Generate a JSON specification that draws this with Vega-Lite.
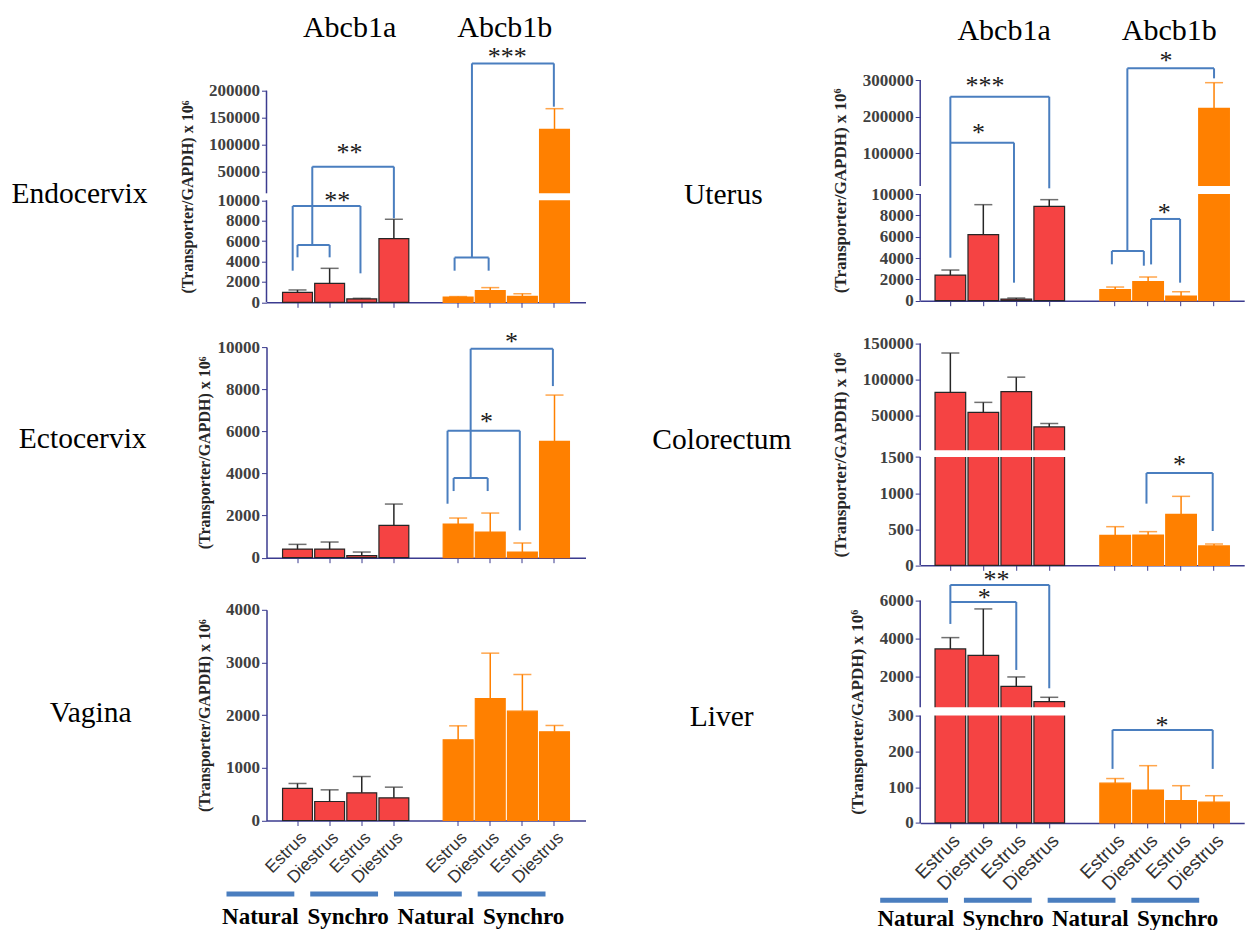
{
"$schema": "https://vega.github.io/schema/vega-lite/v6.json",
"background": "white",
"autosize": {"type": "pad"},
"padding": {"left": 11.5, "top": 8, "right": 0, "bottom": 0},
"config": {
  "view": {"stroke": null},
  "axis": {"domainColor": "#3b3b8f", "domainWidth": 1.5, "tickColor": "#3b3b8f", "tickSize": 5, "grid": false, "labelOverlap": false},
  "axisY": {"labelFont": "Liberation Serif", "labelFontSize": 17, "labelFontWeight": "bold", "labelColor": "#404040", "labelPadding": 2, "titleFont": "Liberation Serif", "titleFontSize": 16, "titleFontWeight": "bold", "titleColor": "#262626", "titlePadding": 13},
  "axisX": {"labelFont": "Liberation Sans", "labelFontSize": 17.5, "labelColor": "#333333", "labelAngle": -45, "labelPadding": 3}
},
"datasets": {
  "bars": [
    {"t":"Endocervix","s":"a|N|Estrus","g":"Abcb1a","v":980,"e":1210},
    {"t":"Endocervix","s":"a|N|Diestrus","g":"Abcb1a","v":1860,"e":3330},
    {"t":"Endocervix","s":"a|S|Estrus","g":"Abcb1a","v":330,"e":390},
    {"t":"Endocervix","s":"a|S|Diestrus","g":"Abcb1a","v":6240,"e":8140},
    {"t":"Endocervix","s":"b|N|Estrus","g":"Abcb1b","v":520,"e":560},
    {"t":"Endocervix","s":"b|N|Diestrus","g":"Abcb1b","v":1140,"e":1440},
    {"t":"Endocervix","s":"b|S|Estrus","g":"Abcb1b","v":590,"e":850},
    {"t":"Endocervix","s":"b|S|Diestrus","g":"Abcb1b","v":128700,"e":166800},
    {"t":"Ectocervix","s":"a|N|Estrus","g":"Abcb1a","v":411,"e":633},
    {"t":"Ectocervix","s":"a|N|Diestrus","g":"Abcb1a","v":411,"e":744},
    {"t":"Ectocervix","s":"a|S|Estrus","g":"Abcb1a","v":95,"e":269},
    {"t":"Ectocervix","s":"a|S|Diestrus","g":"Abcb1a","v":1535,"e":2547},
    {"t":"Ectocervix","s":"b|N|Estrus","g":"Abcb1b","v":1598,"e":1883},
    {"t":"Ectocervix","s":"b|N|Diestrus","g":"Abcb1b","v":1218,"e":2120},
    {"t":"Ectocervix","s":"b|S|Estrus","g":"Abcb1b","v":269,"e":696},
    {"t":"Ectocervix","s":"b|S|Diestrus","g":"Abcb1b","v":5522,"e":7722},
    {"t":"Vagina","s":"a|N|Estrus","g":"Abcb1a","v":608,"e":703},
    {"t":"Vagina","s":"a|N|Diestrus","g":"Abcb1a","v":361,"e":582},
    {"t":"Vagina","s":"a|S|Estrus","g":"Abcb1a","v":525,"e":835},
    {"t":"Vagina","s":"a|S|Diestrus","g":"Abcb1a","v":430,"e":633},
    {"t":"Vagina","s":"b|N|Estrus","g":"Abcb1b","v":1532,"e":1797},
    {"t":"Vagina","s":"b|N|Diestrus","g":"Abcb1b","v":2316,"e":3177},
    {"t":"Vagina","s":"b|S|Estrus","g":"Abcb1b","v":2076,"e":2772},
    {"t":"Vagina","s":"b|S|Diestrus","g":"Abcb1b","v":1684,"e":1804},
    {"t":"Uterus","s":"a|N|Estrus","g":"Abcb1a","v":2406,"e":2875},
    {"t":"Uterus","s":"a|N|Diestrus","g":"Abcb1a","v":6190,"e":9000},
    {"t":"Uterus","s":"a|S|Estrus","g":"Abcb1a","v":156,"e":250},
    {"t":"Uterus","s":"a|S|Diestrus","g":"Abcb1a","v":8840,"e":9470},
    {"t":"Uterus","s":"b|N|Estrus","g":"Abcb1b","v":1030,"e":1280},
    {"t":"Uterus","s":"b|N|Diestrus","g":"Abcb1b","v":1780,"e":2220},
    {"t":"Uterus","s":"b|S|Estrus","g":"Abcb1b","v":440,"e":840},
    {"t":"Uterus","s":"b|S|Diestrus","g":"Abcb1b","v":222700,"e":292700},
    {"t":"Colorectum","s":"a|N|Estrus","g":"Abcb1a","v":82240,"e":136900},
    {"t":"Colorectum","s":"a|N|Diestrus","g":"Abcb1a","v":54200,"e":68200},
    {"t":"Colorectum","s":"a|S|Estrus","g":"Abcb1a","v":83200,"e":103300},
    {"t":"Colorectum","s":"a|S|Diestrus","g":"Abcb1a","v":34100,"e":38800},
    {"t":"Colorectum","s":"b|N|Estrus","g":"Abcb1b","v":415,"e":535},
    {"t":"Colorectum","s":"b|N|Diestrus","g":"Abcb1b","v":420,"e":466},
    {"t":"Colorectum","s":"b|S|Estrus","g":"Abcb1b","v":706,"e":955},
    {"t":"Colorectum","s":"b|S|Diestrus","g":"Abcb1b","v":268,"e":295},
    {"t":"Liver","s":"a|N|Estrus","g":"Abcb1a","v":3445,"e":4044},
    {"t":"Liver","s":"a|N|Diestrus","g":"Abcb1a","v":3110,"e":5560},
    {"t":"Liver","s":"a|S|Estrus","g":"Abcb1a","v":1471,"e":1965},
    {"t":"Liver","s":"a|S|Diestrus","g":"Abcb1a","v":661,"e":890},
    {"t":"Liver","s":"b|N|Estrus","g":"Abcb1b","v":111,"e":124},
    {"t":"Liver","s":"b|N|Diestrus","g":"Abcb1b","v":92,"e":160},
    {"t":"Liver","s":"b|S|Estrus","g":"Abcb1b","v":62,"e":104},
    {"t":"Liver","s":"b|S|Diestrus","g":"Abcb1b","v":58,"e":76}
  ],
  "breaks": [
    {"t":"Endocervix","lo":10000,"hi":10660},
    {"t":"Uterus","lo":10000,"hi":10900},
    {"t":"Colorectum","lo":1500,"hi":1501},
    {"t":"Liver","lo":300,"hi":361}
  ],
  "axisSegs": [
    {"t":"Endocervix","lo":0,"hi":10000},{"t":"Endocervix","lo":10660,"hi":200000},
    {"t":"Uterus","lo":0,"hi":10000},{"t":"Uterus","lo":10900,"hi":300000},
    {"t":"Colorectum","lo":0,"hi":1500},{"t":"Colorectum","lo":1501,"hi":150000},
    {"t":"Liver","lo":0,"hi":300},{"t":"Liver","lo":361,"hi":6000}
  ],
  "brackets": [
    {"t":"Endocervix","x":0,"x2":0,"y":4410,"y2":5620},
    {"t":"Endocervix","x":1,"x2":1,"y":4410,"y2":5620},
    {"t":"Endocervix","x":0,"x2":1,"y":5620,"y2":5620},
    {"t":"Endocervix","x":0.46,"x2":0.46,"y":5620,"y2":59840},
    {"t":"Endocervix","x":0.46,"x2":3,"y":59840,"y2":59840},
    {"t":"Endocervix","x":3,"x2":3,"y":8240,"y2":59840},
    {"t":"Endocervix","x":-0.15,"x2":1.96,"y":9440,"y2":9440},
    {"t":"Endocervix","x":-0.15,"x2":-0.15,"y":3100,"y2":9440},
    {"t":"Endocervix","x":1.96,"x2":1.96,"y":2840,"y2":9440},
    {"t":"Endocervix","x":4.89,"x2":4.89,"y":3100,"y2":4380},
    {"t":"Endocervix","x":5.95,"x2":5.95,"y":3100,"y2":4380},
    {"t":"Endocervix","x":4.89,"x2":5.95,"y":4380,"y2":4380},
    {"t":"Endocervix","x":5.43,"x2":5.43,"y":4380,"y2":250400},
    {"t":"Endocervix","x":5.43,"x2":7.98,"y":250400,"y2":250400},
    {"t":"Endocervix","x":7.98,"x2":7.98,"y":170500,"y2":250400},
    {"t":"Ectocervix","x":4.86,"x2":4.86,"y":3165,"y2":3782},
    {"t":"Ectocervix","x":5.92,"x2":5.92,"y":3165,"y2":3782},
    {"t":"Ectocervix","x":4.86,"x2":5.92,"y":3782,"y2":3782},
    {"t":"Ectocervix","x":5.39,"x2":5.39,"y":3782,"y2":9921},
    {"t":"Ectocervix","x":5.39,"x2":7.95,"y":9921,"y2":9921},
    {"t":"Ectocervix","x":7.95,"x2":7.95,"y":8149,"y2":9921},
    {"t":"Ectocervix","x":4.67,"x2":6.92,"y":6028,"y2":6028},
    {"t":"Ectocervix","x":4.67,"x2":4.67,"y":2563,"y2":6028},
    {"t":"Ectocervix","x":6.92,"x2":6.92,"y":1297,"y2":6028},
    {"t":"Uterus","x":0,"x2":0,"y":4030,"y2":254500},
    {"t":"Uterus","x":0,"x2":3,"y":254500,"y2":254500},
    {"t":"Uterus","x":3,"x2":3,"y":10640,"y2":254500},
    {"t":"Uterus","x":0,"x2":1.93,"y":129100,"y2":129100},
    {"t":"Uterus","x":1.93,"x2":1.93,"y":1690,"y2":129100},
    {"t":"Uterus","x":4.9,"x2":4.9,"y":3410,"y2":4660},
    {"t":"Uterus","x":5.87,"x2":5.87,"y":3280,"y2":4660},
    {"t":"Uterus","x":4.9,"x2":5.87,"y":4660,"y2":4660},
    {"t":"Uterus","x":5.37,"x2":5.37,"y":4660,"y2":331800},
    {"t":"Uterus","x":5.37,"x2":8,"y":331800,"y2":331800},
    {"t":"Uterus","x":8,"x2":8,"y":304500,"y2":331800},
    {"t":"Uterus","x":6.09,"x2":6.97,"y":7660,"y2":7660},
    {"t":"Uterus","x":6.09,"x2":6.09,"y":3400,"y2":7660},
    {"t":"Uterus","x":6.97,"x2":6.97,"y":1690,"y2":7660},
    {"t":"Colorectum","x":5.95,"x2":7.96,"y":1278,"y2":1278},
    {"t":"Colorectum","x":5.95,"x2":5.95,"y":854,"y2":1278},
    {"t":"Colorectum","x":7.96,"x2":7.96,"y":475,"y2":1278},
    {"t":"Liver","x":0,"x2":3,"y":6828,"y2":6828},
    {"t":"Liver","x":0,"x2":0,"y":4767,"y2":6828},
    {"t":"Liver","x":3,"x2":3,"y":1366,"y2":6828},
    {"t":"Liver","x":0,"x2":2,"y":5930,"y2":5930},
    {"t":"Liver","x":2,"x2":2,"y":2335,"y2":5930},
    {"t":"Liver","x":4.92,"x2":7.96,"y":260,"y2":260},
    {"t":"Liver","x":4.92,"x2":4.92,"y":151,"y2":260},
    {"t":"Liver","x":7.96,"x2":7.96,"y":151,"y2":260}
  ],
  "stars": [
    {"t":"Endocervix","x":1.62,"y":93600,"s":"**"},
    {"t":"Endocervix","x":1.24,"y":10360,"s":"**"},
    {"t":"Endocervix","x":6.53,"y":270100,"s":"***"},
    {"t":"Ectocervix","x":6.66,"y":10443,"s":"*"},
    {"t":"Ectocervix","x":5.88,"y":6677,"s":"*"},
    {"t":"Uterus","x":1.05,"y":295500,"s":"***"},
    {"t":"Uterus","x":0.85,"y":168200,"s":"*"},
    {"t":"Uterus","x":6.54,"y":363600,"s":"*"},
    {"t":"Uterus","x":6.49,"y":8660,"s":"*"},
    {"t":"Colorectum","x":6.95,"y":1454,"s":"*"},
    {"t":"Liver","x":1.4,"y":7322,"s":"**"},
    {"t":"Liver","x":1.03,"y":6352,"s":"*"},
    {"t":"Liver","x":6.42,"y":283,"s":"*"}
  ],
  "headers": [
    {"c":"L","x":1.62,"g":"Abcb1a"},{"c":"L","x":6.45,"g":"Abcb1b"},
    {"c":"R","x":1.63,"g":"Abcb1a"},{"c":"R","x":6.64,"g":"Abcb1b"}
  ],
  "groups": [
    {"k":"N1","lab":"Natural"},{"k":"S1","lab":"Synchro"},{"k":"N2","lab":"Natural"},{"k":"S2","lab":"Synchro"}
  ]
},
"hconcat": [
 {"vconcat": [
   {"width":319,"height":40,"data":{"name":"headers"},"transform":[{"filter":"datum.c==='L'"}],
    "mark":{"type":"text","font":"Liberation Serif","fontSize":30,"baseline":"middle","color":"#000000"},
    "encoding":{"x":{"field":"x","type":"quantitative","scale":{"domain":[-0.965,8.965],"nice":false,"zero":false},"axis":null},"text":{"field":"g"}}},
   {"vconcat": [
     {"width":319,"height":211.6,
      "title":{"text":"Endocervix","orient":"left","angle":0,"align":"center","baseline":"middle","anchor":"middle","offset":-36,"dy":-2.5,"font":"Liberation Serif","fontSize":29.5,"fontWeight":"normal","color":"#000000"},
      "resolve":{"scale":{"x":"independent"}},
      "layer":[
       {"data":{"name":"bars"},"transform":[{"filter":"datum.t==='Endocervix'"}],
        "resolve":{"scale":{"fill":"independent"}},
        "layer":[
         {"mark":{"type":"bar","strokeWidth":1.2},
          "encoding":{
           "x":{"field":"s","type":"nominal","scale":{"domain":["a|N|Estrus","a|N|Diestrus","a|S|Estrus","a|S|Diestrus","gap","b|N|Estrus","b|N|Diestrus","b|S|Estrus","b|S|Diestrus"],"paddingInner":0.07,"paddingOuter":0.5},"axis":{"values":["a|N|Estrus","a|N|Diestrus","a|S|Estrus","a|S|Diestrus","b|N|Estrus","b|N|Diestrus","b|S|Estrus","b|S|Diestrus"],"labels":false,"title":null}},
           "y":{"field":"v","type":"quantitative","scale":{"domain":[0,10000,10660,200000],"range":[211.6,109.6,102.6,0],"nice":false,"zero":false},"axis":{"values":[0,2000,4000,6000,8000,10000,50000,100000,150000,200000],"domain":false,"format":"d","labelOverlap":false,"titleFontSize":16,"title":"(Transporter/GAPDH) x 10⁶"}},
           "fill":{"field":"g","type":"nominal","scale":{"domain":["Abcb1a","Abcb1b"],"range":["#F54343","#FF8000"]},"legend":null},
           "stroke":{"field":"g","type":"nominal","scale":{"domain":["Abcb1a","Abcb1b"],"range":["#262626","#FF8000"]},"legend":null}}},
         {"mark":{"type":"rule","strokeWidth":1.5},
          "encoding":{
           "x":{"field":"s","type":"nominal"},
           "y":{"field":"v","type":"quantitative","axis":{"values":[0,2000,4000,6000,8000,10000,50000,100000,150000,200000],"domain":false,"format":"d","labelOverlap":false,"titleFontSize":16,"title":"(Transporter/GAPDH) x 10⁶"}},
           "y2":{"field":"e"},
           "stroke":{"field":"g","type":"nominal","legend":null}}},
         {"mark":{"type":"tick","orient":"horizontal","size":18,"thickness":1.5},
          "encoding":{
           "x":{"field":"s","type":"nominal"},
           "y":{"field":"e","type":"quantitative","axis":{"values":[0,2000,4000,6000,8000,10000,50000,100000,150000,200000],"domain":false,"format":"d","labelOverlap":false,"titleFontSize":16,"title":"(Transporter/GAPDH) x 10⁶"}},
           "fill":{"field":"g","type":"nominal","scale":{"domain":["Abcb1a","Abcb1b"],"range":["#333333","#FF8000"]},"legend":null}}}
        ]},
       {"layer":[
         {"data":{"name":"breaks"},"transform":[{"filter":"datum.t==='Endocervix'"}],"mark":{"type":"rect","fill":"white"},
          "encoding":{"y":{"field":"lo","type":"quantitative","axis":{"values":[0,2000,4000,6000,8000,10000,50000,100000,150000,200000],"domain":false,"format":"d","labelOverlap":false,"titleFontSize":16,"title":"(Transporter/GAPDH) x 10⁶"}},"y2":{"field":"hi"}}},
         {"data":{"name":"axisSegs"},"transform":[{"filter":"datum.t==='Endocervix'"}],"mark":{"type":"rule","color":"#3b3b8f","strokeWidth":1.5},
          "encoding":{"x":{"datum":-0.965,"type":"quantitative","scale":{"domain":[-0.965,8.965],"nice":false,"zero":false},"axis":null},
           "y":{"field":"lo","type":"quantitative","axis":{"values":[0,2000,4000,6000,8000,10000,50000,100000,150000,200000],"domain":false,"format":"d","labelOverlap":false,"titleFontSize":16,"title":"(Transporter/GAPDH) x 10⁶"}},"y2":{"field":"hi"}}},
         {"data":{"name":"brackets"},"transform":[{"filter":"datum.t==='Endocervix'"}],"mark":{"type":"rule","color":"#4A7EBF","strokeWidth":2},
          "encoding":{"x":{"field":"x","type":"quantitative","scale":{"domain":[-0.965,8.965],"nice":false,"zero":false},"axis":null},"x2":{"field":"x2"},
           "y":{"field":"y","type":"quantitative","axis":{"values":[0,2000,4000,6000,8000,10000,50000,100000,150000,200000],"domain":false,"format":"d","labelOverlap":false,"titleFontSize":16,"title":"(Transporter/GAPDH) x 10⁶"}},"y2":{"field":"y2"}}},
         {"data":{"name":"stars"},"transform":[{"filter":"datum.t==='Endocervix'"}],"mark":{"type":"text","font":"Liberation Serif","fontSize":26,"baseline":"middle","dy":4.5,"color":"#1a1a1a"},
          "encoding":{"x":{"field":"x","type":"quantitative","scale":{"domain":[-0.965,8.965],"nice":false,"zero":false},"axis":null},
           "y":{"field":"y","type":"quantitative","axis":{"values":[0,2000,4000,6000,8000,10000,50000,100000,150000,200000],"domain":false,"format":"d","labelOverlap":false,"titleFontSize":16,"title":"(Transporter/GAPDH) x 10⁶"}},"text":{"field":"s"}}}
       ]}
      ]},
     {"vconcat": [
       {"width":319,"height":210.6,
        "title":{"text":"Ectocervix","orient":"left","angle":0,"align":"center","baseline":"middle","anchor":"middle","offset":-14.5,"dy":-13,"font":"Liberation Serif","fontSize":29.5,"fontWeight":"normal","color":"#000000"},
        "resolve":{"scale":{"x":"independent"}},
        "layer":[
         {"data":{"name":"bars"},"transform":[{"filter":"datum.t==='Ectocervix'"}],
          "resolve":{"scale":{"fill":"independent"}},
          "layer":[
           {"mark":{"type":"bar","strokeWidth":1.2},
            "encoding":{
             "x":{"field":"s","type":"nominal","scale":{"domain":["a|N|Estrus","a|N|Diestrus","a|S|Estrus","a|S|Diestrus","gap","b|N|Estrus","b|N|Diestrus","b|S|Estrus","b|S|Diestrus"],"paddingInner":0.07,"paddingOuter":0.5},"axis":{"values":["a|N|Estrus","a|N|Diestrus","a|S|Estrus","a|S|Diestrus","b|N|Estrus","b|N|Diestrus","b|S|Estrus","b|S|Diestrus"],"labels":false,"title":null}},
             "y":{"field":"v","type":"quantitative","scale":{"domain":[0,10000],"nice":false},"axis":{"values":[0,2000,4000,6000,8000,10000],"format":"d","labelOverlap":false,"titleFontSize":16,"titlePadding":5,"title":"(Transporter/GAPDH) x 10⁶"}},
             "fill":{"field":"g","type":"nominal","scale":{"domain":["Abcb1a","Abcb1b"],"range":["#F54343","#FF8000"]},"legend":null},
             "stroke":{"field":"g","type":"nominal","scale":{"domain":["Abcb1a","Abcb1b"],"range":["#262626","#FF8000"]},"legend":null}}},
           {"mark":{"type":"rule","strokeWidth":1.5},
            "encoding":{
             "x":{"field":"s","type":"nominal"},
             "y":{"field":"v","type":"quantitative","axis":{"values":[0,2000,4000,6000,8000,10000],"format":"d","labelOverlap":false,"titleFontSize":16,"titlePadding":5,"title":"(Transporter/GAPDH) x 10⁶"}},
             "y2":{"field":"e"},
             "stroke":{"field":"g","type":"nominal","legend":null}}},
           {"mark":{"type":"tick","orient":"horizontal","size":18,"thickness":1.5},
            "encoding":{
             "x":{"field":"s","type":"nominal"},
             "y":{"field":"e","type":"quantitative","axis":{"values":[0,2000,4000,6000,8000,10000],"format":"d","labelOverlap":false,"titleFontSize":16,"titlePadding":5,"title":"(Transporter/GAPDH) x 10⁶"}},
             "fill":{"field":"g","type":"nominal","scale":{"domain":["Abcb1a","Abcb1b"],"range":["#333333","#FF8000"]},"legend":null}}}
          ]},
         {"layer":[
           {"data":{"name":"brackets"},"transform":[{"filter":"datum.t==='Ectocervix'"}],"mark":{"type":"rule","color":"#4A7EBF","strokeWidth":2},
            "encoding":{"x":{"field":"x","type":"quantitative","scale":{"domain":[-0.965,8.965],"nice":false,"zero":false},"axis":null},"x2":{"field":"x2"},
             "y":{"field":"y","type":"quantitative","axis":{"values":[0,2000,4000,6000,8000,10000],"format":"d","labelOverlap":false,"titleFontSize":16,"titlePadding":5,"title":"(Transporter/GAPDH) x 10⁶"}},"y2":{"field":"y2"}}},
           {"data":{"name":"stars"},"transform":[{"filter":"datum.t==='Ectocervix'"}],"mark":{"type":"text","font":"Liberation Serif","fontSize":26,"baseline":"middle","dy":4.5,"color":"#1a1a1a"},
            "encoding":{"x":{"field":"x","type":"quantitative","scale":{"domain":[-0.965,8.965],"nice":false,"zero":false},"axis":null},
             "y":{"field":"y","type":"quantitative","axis":{"values":[0,2000,4000,6000,8000,10000],"format":"d","labelOverlap":false,"titleFontSize":16,"titlePadding":5,"title":"(Transporter/GAPDH) x 10⁶"}},"text":{"field":"s"}}}
         ]}
        ]},
       {"vconcat": [
         {"width":319,"height":210.7,
          "title":{"text":"Vagina","orient":"left","angle":0,"align":"center","baseline":"middle","anchor":"middle","offset":24,"dy":-2.5,"font":"Liberation Serif","fontSize":29.5,"fontWeight":"normal","color":"#000000"},
          "data":{"name":"bars"},"transform":[{"filter":"datum.t==='Vagina'"}],
          "resolve":{"scale":{"fill":"independent"}},
          "layer":[
           {"mark":{"type":"bar","strokeWidth":1.2},
            "encoding":{
             "x":{"field":"s","type":"nominal","scale":{"domain":["a|N|Estrus","a|N|Diestrus","a|S|Estrus","a|S|Diestrus","gap","b|N|Estrus","b|N|Diestrus","b|S|Estrus","b|S|Diestrus"],"paddingInner":0.07,"paddingOuter":0.5},"axis":{"values":["a|N|Estrus","a|N|Diestrus","a|S|Estrus","a|S|Diestrus","b|N|Estrus","b|N|Diestrus","b|S|Estrus","b|S|Diestrus"],"labelExpr":"split(datum.value, '|')[2]","labelFontSize":17.5,"title":null}},
             "y":{"field":"v","type":"quantitative","scale":{"domain":[0,4000],"nice":false},"axis":{"values":[0,1000,2000,3000,4000],"format":"d","labelOverlap":false,"titleFontSize":16,"title":"(Transporter/GAPDH) x 10⁶"}},
             "fill":{"field":"g","type":"nominal","scale":{"domain":["Abcb1a","Abcb1b"],"range":["#F54343","#FF8000"]},"legend":null},
             "stroke":{"field":"g","type":"nominal","scale":{"domain":["Abcb1a","Abcb1b"],"range":["#262626","#FF8000"]},"legend":null}}},
           {"mark":{"type":"rule","strokeWidth":1.5},
            "encoding":{
             "x":{"field":"s","type":"nominal"},
             "y":{"field":"v","type":"quantitative","axis":{"values":[0,1000,2000,3000,4000],"format":"d","labelOverlap":false,"titleFontSize":16,"title":"(Transporter/GAPDH) x 10⁶"}},
             "y2":{"field":"e"},
             "stroke":{"field":"g","type":"nominal","legend":null}}},
           {"mark":{"type":"tick","orient":"horizontal","size":18,"thickness":1.5},
            "encoding":{
             "x":{"field":"s","type":"nominal"},
             "y":{"field":"e","type":"quantitative","axis":{"values":[0,1000,2000,3000,4000],"format":"d","labelOverlap":false,"titleFontSize":16,"title":"(Transporter/GAPDH) x 10⁶"}},
             "fill":{"field":"g","type":"nominal","scale":{"domain":["Abcb1a","Abcb1b"],"range":["#333333","#FF8000"]},"legend":null}}}
          ]},
         {"vconcat": [
           {"width":319,"height":5,"data":{"name":"groups"},"mark":{"type":"rect","color":"#4A7EBF"},
            "encoding":{"x":{"field":"k","type":"nominal","scale":{"domain":["N1","S1","N2","S2"],"range":[-40,279],"paddingInner":0.19,"paddingOuter":0},"axis":null}}},
           {"width":319,"height":18.6,"data":{"name":"groups"},"mark":{"type":"text","font":"Liberation Serif","fontSize":23,"fontWeight":"bold","baseline":"top","color":"#000000"},
            "encoding":{"x":{"field":"k","type":"nominal","scale":{"domain":["N1","S1","N2","S2"],"range":[-50,301],"paddingInner":0.19,"paddingOuter":0},"axis":null},"text":{"field":"lab"}}}
         ],"spacing":0,"bounds":"flush"}
       ],"spacing":70.8,"bounds":"flush"}
     ],"spacing":51.7,"bounds":"flush"}
   ],"spacing":44.4,"bounds":"flush"}
 ],"spacing":42.7,"bounds":"flush"},
 {"vconcat": [
   {"width":324,"height":46,"data":{"name":"headers"},"transform":[{"filter":"datum.c==='R'"}],
    "mark":{"type":"text","font":"Liberation Serif","fontSize":30,"baseline":"middle","color":"#000000"},
    "encoding":{"x":{"field":"x","type":"quantitative","scale":{"domain":[-0.915,8.915],"nice":false,"zero":false},"axis":null},"text":{"field":"g"}}},
   {"vconcat": [
     {"width":324,"height":220.7,
      "title":{"text":"Uterus","orient":"left","angle":0,"align":"center","baseline":"middle","anchor":"middle","offset":29.2,"dy":4.7,"font":"Liberation Serif","fontSize":29.5,"fontWeight":"normal","color":"#000000"},
      "resolve":{"scale":{"x":"independent"}},
      "layer":[
       {"data":{"name":"bars"},"transform":[{"filter":"datum.t==='Uterus'"}],
        "resolve":{"scale":{"fill":"independent"}},
        "layer":[
         {"mark":{"type":"bar","strokeWidth":1.2},
          "encoding":{
           "x":{"field":"s","type":"nominal","scale":{"domain":["a|N|Estrus","a|N|Diestrus","a|S|Estrus","a|S|Diestrus","gap","b|N|Estrus","b|N|Diestrus","b|S|Estrus","b|S|Diestrus"],"paddingInner":0.07,"paddingOuter":0.45},"axis":{"values":["a|N|Estrus","a|N|Diestrus","a|S|Estrus","a|S|Diestrus","b|N|Estrus","b|N|Diestrus","b|S|Estrus","b|S|Diestrus"],"labels":false,"title":null}},
           "y":{"field":"v","type":"quantitative","scale":{"domain":[0,10000,10900,300000],"range":[220.7,114,106,0],"nice":false,"zero":false},"axis":{"values":[0,2000,4000,6000,8000,10000,100000,200000,300000],"domain":false,"format":"d","labelOverlap":false,"titleFontSize":17,"title":"(Transporter/GAPDH) x 10⁶"}},
           "fill":{"field":"g","type":"nominal","scale":{"domain":["Abcb1a","Abcb1b"],"range":["#F54343","#FF8000"]},"legend":null},
           "stroke":{"field":"g","type":"nominal","scale":{"domain":["Abcb1a","Abcb1b"],"range":["#262626","#FF8000"]},"legend":null}}},
         {"mark":{"type":"rule","strokeWidth":1.5},
          "encoding":{
           "x":{"field":"s","type":"nominal"},
           "y":{"field":"v","type":"quantitative","axis":{"values":[0,2000,4000,6000,8000,10000,100000,200000,300000],"domain":false,"format":"d","labelOverlap":false,"titleFontSize":17,"title":"(Transporter/GAPDH) x 10⁶"}},
           "y2":{"field":"e"},
           "stroke":{"field":"g","type":"nominal","legend":null}}},
         {"mark":{"type":"tick","orient":"horizontal","size":18,"thickness":1.5},
          "encoding":{
           "x":{"field":"s","type":"nominal"},
           "y":{"field":"e","type":"quantitative","axis":{"values":[0,2000,4000,6000,8000,10000,100000,200000,300000],"domain":false,"format":"d","labelOverlap":false,"titleFontSize":17,"title":"(Transporter/GAPDH) x 10⁶"}},
           "fill":{"field":"g","type":"nominal","scale":{"domain":["Abcb1a","Abcb1b"],"range":["#333333","#FF8000"]},"legend":null}}}
        ]},
       {"layer":[
         {"data":{"name":"breaks"},"transform":[{"filter":"datum.t==='Uterus'"}],"mark":{"type":"rect","fill":"white"},
          "encoding":{"y":{"field":"lo","type":"quantitative","axis":{"values":[0,2000,4000,6000,8000,10000,100000,200000,300000],"domain":false,"format":"d","labelOverlap":false,"titleFontSize":17,"title":"(Transporter/GAPDH) x 10⁶"}},"y2":{"field":"hi"}}},
         {"data":{"name":"axisSegs"},"transform":[{"filter":"datum.t==='Uterus'"}],"mark":{"type":"rule","color":"#3b3b8f","strokeWidth":1.5},
          "encoding":{"x":{"datum":-0.915,"type":"quantitative","scale":{"domain":[-0.915,8.915],"nice":false,"zero":false},"axis":null},
           "y":{"field":"lo","type":"quantitative","axis":{"values":[0,2000,4000,6000,8000,10000,100000,200000,300000],"domain":false,"format":"d","labelOverlap":false,"titleFontSize":17,"title":"(Transporter/GAPDH) x 10⁶"}},"y2":{"field":"hi"}}},
         {"data":{"name":"brackets"},"transform":[{"filter":"datum.t==='Uterus'"}],"mark":{"type":"rule","color":"#4A7EBF","strokeWidth":2},
          "encoding":{"x":{"field":"x","type":"quantitative","scale":{"domain":[-0.915,8.915],"nice":false,"zero":false},"axis":null},"x2":{"field":"x2"},
           "y":{"field":"y","type":"quantitative","axis":{"values":[0,2000,4000,6000,8000,10000,100000,200000,300000],"domain":false,"format":"d","labelOverlap":false,"titleFontSize":17,"title":"(Transporter/GAPDH) x 10⁶"}},"y2":{"field":"y2"}}},
         {"data":{"name":"stars"},"transform":[{"filter":"datum.t==='Uterus'"}],"mark":{"type":"text","font":"Liberation Serif","fontSize":26,"baseline":"middle","dy":4.5,"color":"#1a1a1a"},
          "encoding":{"x":{"field":"x","type":"quantitative","scale":{"domain":[-0.915,8.915],"nice":false,"zero":false},"axis":null},
           "y":{"field":"y","type":"quantitative","axis":{"values":[0,2000,4000,6000,8000,10000,100000,200000,300000],"domain":false,"format":"d","labelOverlap":false,"titleFontSize":17,"title":"(Transporter/GAPDH) x 10⁶"}},"text":{"field":"s"}}}
       ]}
      ]},
     {"vconcat": [
       {"width":324,"height":221.7,
        "title":{"text":"Colorectum","orient":"left","angle":0,"align":"center","baseline":"middle","anchor":"middle","offset":-30,"dy":-14,"font":"Liberation Serif","fontSize":29.5,"fontWeight":"normal","color":"#000000"},
        "resolve":{"scale":{"x":"independent"}},
        "layer":[
         {"data":{"name":"bars"},"transform":[{"filter":"datum.t==='Colorectum'"}],
          "resolve":{"scale":{"fill":"independent"}},
          "layer":[
           {"mark":{"type":"bar","strokeWidth":1.2},
            "encoding":{
             "x":{"field":"s","type":"nominal","scale":{"domain":["a|N|Estrus","a|N|Diestrus","a|S|Estrus","a|S|Diestrus","gap","b|N|Estrus","b|N|Diestrus","b|S|Estrus","b|S|Diestrus"],"paddingInner":0.07,"paddingOuter":0.45},"axis":{"values":["a|N|Estrus","a|N|Diestrus","a|S|Estrus","a|S|Diestrus","b|N|Estrus","b|N|Diestrus","b|S|Estrus","b|S|Diestrus"],"labels":false,"title":null}},
             "y":{"field":"v","type":"quantitative","scale":{"domain":[0,1500,1501,150000],"range":[221.7,113.4,106.7,0],"nice":false,"zero":false},"axis":{"values":[0,500,1000,1500,50000,100000,150000],"domain":false,"format":"d","labelOverlap":false,"titleFontSize":17,"title":"(Transporter/GAPDH) x 10⁶"}},
             "fill":{"field":"g","type":"nominal","scale":{"domain":["Abcb1a","Abcb1b"],"range":["#F54343","#FF8000"]},"legend":null},
             "stroke":{"field":"g","type":"nominal","scale":{"domain":["Abcb1a","Abcb1b"],"range":["#262626","#FF8000"]},"legend":null}}},
           {"mark":{"type":"rule","strokeWidth":1.5},
            "encoding":{
             "x":{"field":"s","type":"nominal"},
             "y":{"field":"v","type":"quantitative","axis":{"values":[0,500,1000,1500,50000,100000,150000],"domain":false,"format":"d","labelOverlap":false,"titleFontSize":17,"title":"(Transporter/GAPDH) x 10⁶"}},
             "y2":{"field":"e"},
             "stroke":{"field":"g","type":"nominal","legend":null}}},
           {"mark":{"type":"tick","orient":"horizontal","size":18,"thickness":1.5},
            "encoding":{
             "x":{"field":"s","type":"nominal"},
             "y":{"field":"e","type":"quantitative","axis":{"values":[0,500,1000,1500,50000,100000,150000],"domain":false,"format":"d","labelOverlap":false,"titleFontSize":17,"title":"(Transporter/GAPDH) x 10⁶"}},
             "fill":{"field":"g","type":"nominal","scale":{"domain":["Abcb1a","Abcb1b"],"range":["#333333","#FF8000"]},"legend":null}}}
          ]},
         {"layer":[
           {"data":{"name":"breaks"},"transform":[{"filter":"datum.t==='Colorectum'"}],"mark":{"type":"rect","fill":"white"},
            "encoding":{"y":{"field":"lo","type":"quantitative","axis":{"values":[0,500,1000,1500,50000,100000,150000],"domain":false,"format":"d","labelOverlap":false,"titleFontSize":17,"title":"(Transporter/GAPDH) x 10⁶"}},"y2":{"field":"hi"}}},
           {"data":{"name":"axisSegs"},"transform":[{"filter":"datum.t==='Colorectum'"}],"mark":{"type":"rule","color":"#3b3b8f","strokeWidth":1.5},
            "encoding":{"x":{"datum":-0.915,"type":"quantitative","scale":{"domain":[-0.915,8.915],"nice":false,"zero":false},"axis":null},
             "y":{"field":"lo","type":"quantitative","axis":{"values":[0,500,1000,1500,50000,100000,150000],"domain":false,"format":"d","labelOverlap":false,"titleFontSize":17,"title":"(Transporter/GAPDH) x 10⁶"}},"y2":{"field":"hi"}}},
           {"data":{"name":"brackets"},"transform":[{"filter":"datum.t==='Colorectum'"}],"mark":{"type":"rule","color":"#4A7EBF","strokeWidth":2},
            "encoding":{"x":{"field":"x","type":"quantitative","scale":{"domain":[-0.915,8.915],"nice":false,"zero":false},"axis":null},"x2":{"field":"x2"},
             "y":{"field":"y","type":"quantitative","axis":{"values":[0,500,1000,1500,50000,100000,150000],"domain":false,"format":"d","labelOverlap":false,"titleFontSize":17,"title":"(Transporter/GAPDH) x 10⁶"}},"y2":{"field":"y2"}}},
           {"data":{"name":"stars"},"transform":[{"filter":"datum.t==='Colorectum'"}],"mark":{"type":"text","font":"Liberation Serif","fontSize":26,"baseline":"middle","dy":4.5,"color":"#1a1a1a"},
            "encoding":{"x":{"field":"x","type":"quantitative","scale":{"domain":[-0.915,8.915],"nice":false,"zero":false},"axis":null},
             "y":{"field":"y","type":"quantitative","axis":{"values":[0,500,1000,1500,50000,100000,150000],"domain":false,"format":"d","labelOverlap":false,"titleFontSize":17,"title":"(Transporter/GAPDH) x 10⁶"}},"text":{"field":"s"}}}
         ]}
        ]},
       {"vconcat": [
         {"width":324,"height":222.3,
          "title":{"text":"Liver","orient":"left","angle":0,"align":"center","baseline":"middle","anchor":"middle","offset":62.7,"dy":5,"font":"Liberation Serif","fontSize":29.5,"fontWeight":"normal","color":"#000000"},
          "resolve":{"scale":{"x":"independent"}},
          "layer":[
           {"data":{"name":"bars"},"transform":[{"filter":"datum.t==='Liver'"}],
            "resolve":{"scale":{"fill":"independent"}},
            "layer":[
             {"mark":{"type":"bar","strokeWidth":1.2},
              "encoding":{
               "x":{"field":"s","type":"nominal","scale":{"domain":["a|N|Estrus","a|N|Diestrus","a|S|Estrus","a|S|Diestrus","gap","b|N|Estrus","b|N|Diestrus","b|S|Estrus","b|S|Diestrus"],"paddingInner":0.07,"paddingOuter":0.45},"axis":{"values":["a|N|Estrus","a|N|Diestrus","a|S|Estrus","a|S|Diestrus","b|N|Estrus","b|N|Diestrus","b|S|Estrus","b|S|Diestrus"],"labelExpr":"split(datum.value, '|')[2]","labelFontSize":19,"title":null}},
               "y":{"field":"v","type":"quantitative","scale":{"domain":[0,300,361,6000],"range":[222.3,115,106.7,0],"nice":false,"zero":false},"axis":{"values":[0,100,200,300,2000,4000,6000],"domain":false,"format":"d","labelOverlap":false,"titleFontSize":17,"title":"(Transporter/GAPDH) x 10⁶"}},
               "fill":{"field":"g","type":"nominal","scale":{"domain":["Abcb1a","Abcb1b"],"range":["#F54343","#FF8000"]},"legend":null},
               "stroke":{"field":"g","type":"nominal","scale":{"domain":["Abcb1a","Abcb1b"],"range":["#262626","#FF8000"]},"legend":null}}},
             {"mark":{"type":"rule","strokeWidth":1.5},
              "encoding":{
               "x":{"field":"s","type":"nominal"},
               "y":{"field":"v","type":"quantitative","axis":{"values":[0,100,200,300,2000,4000,6000],"domain":false,"format":"d","labelOverlap":false,"titleFontSize":17,"title":"(Transporter/GAPDH) x 10⁶"}},
               "y2":{"field":"e"},
               "stroke":{"field":"g","type":"nominal","legend":null}}},
             {"mark":{"type":"tick","orient":"horizontal","size":18,"thickness":1.5},
              "encoding":{
               "x":{"field":"s","type":"nominal"},
               "y":{"field":"e","type":"quantitative","axis":{"values":[0,100,200,300,2000,4000,6000],"domain":false,"format":"d","labelOverlap":false,"titleFontSize":17,"title":"(Transporter/GAPDH) x 10⁶"}},
               "fill":{"field":"g","type":"nominal","scale":{"domain":["Abcb1a","Abcb1b"],"range":["#333333","#FF8000"]},"legend":null}}}
            ]},
           {"layer":[
             {"data":{"name":"breaks"},"transform":[{"filter":"datum.t==='Liver'"}],"mark":{"type":"rect","fill":"white"},
              "encoding":{"y":{"field":"lo","type":"quantitative","axis":{"values":[0,100,200,300,2000,4000,6000],"domain":false,"format":"d","labelOverlap":false,"titleFontSize":17,"title":"(Transporter/GAPDH) x 10⁶"}},"y2":{"field":"hi"}}},
             {"data":{"name":"axisSegs"},"transform":[{"filter":"datum.t==='Liver'"}],"mark":{"type":"rule","color":"#3b3b8f","strokeWidth":1.5},
              "encoding":{"x":{"datum":-0.915,"type":"quantitative","scale":{"domain":[-0.915,8.915],"nice":false,"zero":false},"axis":null},
               "y":{"field":"lo","type":"quantitative","axis":{"values":[0,100,200,300,2000,4000,6000],"domain":false,"format":"d","labelOverlap":false,"titleFontSize":17,"title":"(Transporter/GAPDH) x 10⁶"}},"y2":{"field":"hi"}}},
             {"data":{"name":"brackets"},"transform":[{"filter":"datum.t==='Liver'"}],"mark":{"type":"rule","color":"#4A7EBF","strokeWidth":2},
              "encoding":{"x":{"field":"x","type":"quantitative","scale":{"domain":[-0.915,8.915],"nice":false,"zero":false},"axis":null},"x2":{"field":"x2"},
               "y":{"field":"y","type":"quantitative","axis":{"values":[0,100,200,300,2000,4000,6000],"domain":false,"format":"d","labelOverlap":false,"titleFontSize":17,"title":"(Transporter/GAPDH) x 10⁶"}},"y2":{"field":"y2"}}},
             {"data":{"name":"stars"},"transform":[{"filter":"datum.t==='Liver'"}],"mark":{"type":"text","font":"Liberation Serif","fontSize":26,"baseline":"middle","dy":4.5,"color":"#1a1a1a"},
              "encoding":{"x":{"field":"x","type":"quantitative","scale":{"domain":[-0.915,8.915],"nice":false,"zero":false},"axis":null},
               "y":{"field":"y","type":"quantitative","axis":{"values":[0,100,200,300,2000,4000,6000],"domain":false,"format":"d","labelOverlap":false,"titleFontSize":17,"title":"(Transporter/GAPDH) x 10⁶"}},"text":{"field":"s"}}}
           ]}
          ]},
         {"vconcat": [
           {"width":324,"height":5,"data":{"name":"groups"},"mark":{"type":"rect","color":"#4A7EBF"},
            "encoding":{"x":{"field":"k","type":"nominal","scale":{"domain":["N1","S1","N2","S2"],"range":[-40,279],"paddingInner":0.19,"paddingOuter":0},"axis":null}}},
           {"width":324,"height":10.6,"data":{"name":"groups"},"mark":{"type":"text","font":"Liberation Serif","fontSize":23,"fontWeight":"bold","baseline":"top","color":"#000000"},
            "encoding":{"x":{"field":"k","type":"nominal","scale":{"domain":["N1","S1","N2","S2"],"range":[-48,301],"paddingInner":0.19,"paddingOuter":0},"axis":null},"text":{"field":"lab"}}}
         ],"spacing":0,"bounds":"flush"}
       ],"spacing":74.2,"bounds":"flush"}
     ],"spacing":35,"bounds":"flush"}
   ],"spacing":42.6,"bounds":"flush"}
 ],"spacing":26,"bounds":"flush"}
],
"spacing": 653.7,
"bounds": "flush"
}
